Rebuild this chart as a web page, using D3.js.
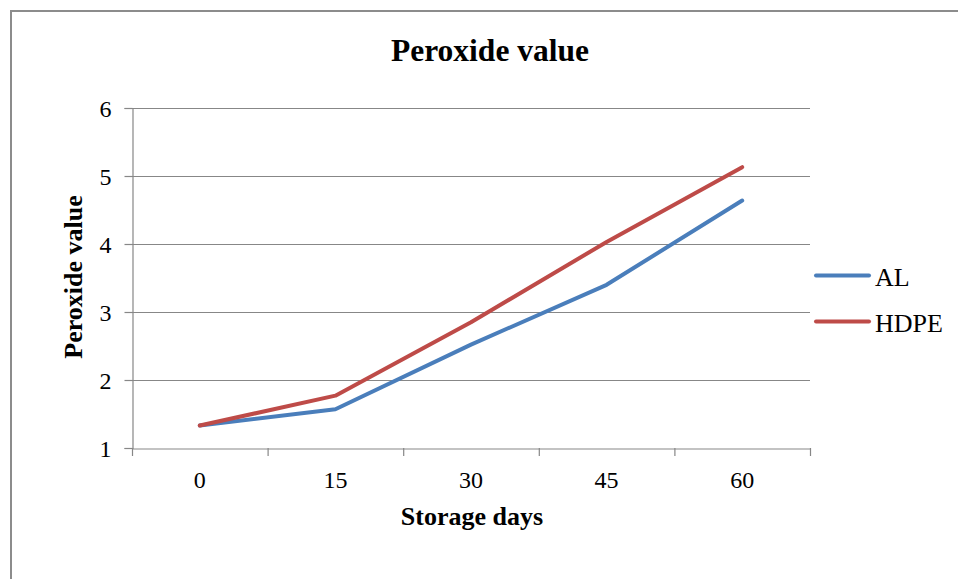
<!DOCTYPE html>
<html><head><meta charset="utf-8">
<script src="https://cdn.jsdelivr.net/npm/d3@7"></script>
<style>body{margin:0;background:#fff}svg{display:block}svg text{font-family:"Liberation Serif","Times New Roman",serif !important;fill:#000}</style>
</head><body>
<svg id="c" width="958" height="579"></svg>
<script>
const categories = ["0", "15", "30", "45", "60"];
const yTicks = [1, 2, 3, 4, 5, 6];
const seriesNames = ["AL", "HDPE"];
const alValues = [1.33, 1.57, 2.52, 3.40, 4.64];
const hdpeValues = [1.33, 1.77, 2.85, 4.03, 5.13];
const colors = ["#4A7EBB", "#BE4B48"];

const svg = d3.select("#c");
svg.append("rect").attr("x", 11).attr("y", 11).attr("width", 1000).attr("height", 1000)
  .attr("fill", "#fff").attr("stroke", "#8c8c8c").attr("stroke-width", 2);

const L = 132, R = 810, T = 108, B = 448;
const x = d3.scaleBand().domain(categories).range([L, R]);
const y = d3.scaleLinear().domain([1, 6]).range([B, T]);

// gridlines
svg.append("g").selectAll("line").data(yTicks.filter(d => d > 1)).join("line")
  .attr("x1", L).attr("x2", R).attr("y1", d => y(d) + 0.5).attr("y2", d => y(d) + 0.5)
  .attr("stroke", "#878787").attr("stroke-width", 1.2);

// y axis
const ya = svg.append("g").attr("transform", `translate(${L + 0.5},0)`)
  .call(d3.axisLeft(y).tickValues(yTicks).tickSize(8).tickPadding(13).tickFormat(d3.format("d")));
ya.attr("font-family", null);
ya.select(".domain").attr("stroke", "#878787").attr("stroke-width", 1.2);
ya.selectAll(".tick line").attr("stroke", "#878787").attr("stroke-width", 1.2);
ya.selectAll("text").attr("font-size", 24).attr("dy", "0.34em");

// x axis
const xa = svg.append("g").attr("transform", `translate(0,${B + 0.5})`)
  .call(d3.axisBottom(x).tickSize(0).tickPadding(22));
xa.attr("font-family", null);
xa.select(".domain").attr("stroke", "#878787").attr("stroke-width", 1.2);
xa.selectAll("text").attr("font-size", 24);
// category boundary ticks
const bounds = categories.map(c => x(c)).concat([R]);
svg.append("g").selectAll("line").data(bounds).join("line")
  .attr("x1", d => d + 0.5).attr("x2", d => d + 0.5).attr("y1", B).attr("y2", B + 8)
  .attr("stroke", "#878787").attr("stroke-width", 1.2);

// lines
const line = d3.line().x((d, i) => x(categories[i]) + x.bandwidth() / 2).y(d => y(d));
[alValues, hdpeValues].forEach((vals, i) => {
  svg.append("path").datum(vals).attr("d", line).attr("fill", "none")
    .attr("stroke", colors[i]).attr("stroke-width", 4).attr("stroke-linecap", "round").attr("stroke-linejoin", "round");
});

// legend
seriesNames.forEach((n, i) => {
  const ly = 275.5 + i * 46;
  svg.append("line").attr("x1", 816).attr("x2", 869).attr("y1", ly).attr("y2", ly)
    .attr("stroke", colors[i]).attr("stroke-width", 4).attr("stroke-linecap", "round");
  svg.append("text").attr("x", 875).attr("y", ly + 10).attr("font-size", 26).text(n);
});

// titles
svg.append("text").attr("x", 490).attr("y", 61).attr("text-anchor", "middle")
  .attr("font-size", 31.5).attr("font-weight", "bold").text("Peroxide value");
svg.append("text").attr("x", 472).attr("y", 525).attr("text-anchor", "middle")
  .attr("font-size", 26).attr("font-weight", "bold").text("Storage days");
svg.append("text").attr("transform", "translate(82,277) rotate(-90)").attr("text-anchor", "middle")
  .attr("font-size", 26).attr("font-weight", "bold").text("Peroxide value");
</script>
</body></html>
